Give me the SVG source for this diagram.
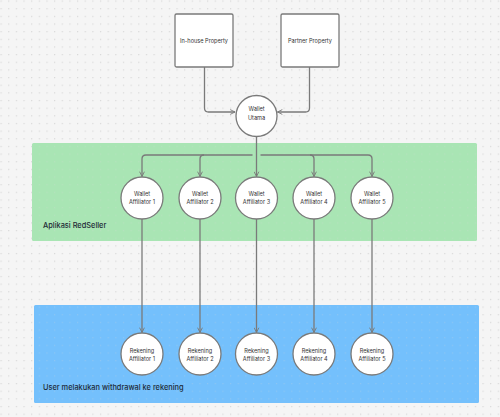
<svg xmlns="http://www.w3.org/2000/svg" width="500" height="417" viewBox="0 0 500 417">
<defs>
<pattern id="dots" x="0.5" y="0.5" width="7.65" height="7.65" patternUnits="userSpaceOnUse">
<rect x="0" y="0" width="1.2" height="1.2" fill="#d8d8d8"/>
</pattern>
<marker id="arr" viewBox="0 0 10 10" refX="9" refY="5" markerWidth="6" markerHeight="6" orient="auto" markerUnits="userSpaceOnUse">
<path d="M1,1 L9,5 L1,9" fill="none" stroke="#7a7a7a" stroke-width="1.5"/>
</marker>
<style>
.box{fill:#fff;stroke:#7a7a7a;stroke-width:1.3}
.node{fill:#fff;stroke:#7a7a7a;stroke-width:1.3}
.t{font-family:Inter,"Liberation Sans",sans-serif;font-size:5.6px;fill:#333;text-anchor:middle}
.lbl{font-family:Inter,"Liberation Sans",sans-serif;font-size:7.4px;font-weight:500;fill:#1e2a36}
.c{fill:none;stroke:#7a7a7a;stroke-width:1.3;marker-end:url(#arr)}
.c2{fill:none;stroke:#7a7a7a;stroke-width:1.3}
</style>
</defs>
<rect width="500" height="417" fill="#f5f5f5"/>
<rect width="500" height="417" fill="url(#dots)"/>
<g id="zone-app">
<rect x="32" y="143" width="445" height="98" rx="1.5" fill="#a9e5b4"/>
<rect x="32" y="143" width="445" height="98" fill="url(#dots)" opacity="0.25"/>
<text class="lbl" x="43" y="227.5">Aplikasi RedSeller</text>
</g>
<g id="zone-withdraw">
<rect x="34" y="305" width="445" height="98" rx="1.5" fill="#74c0fc"/>
<rect x="34" y="305" width="445" height="98" fill="url(#dots)" opacity="0.25"/>
<text class="lbl" x="43" y="389.5">User melakukan withdrawal ke rekening</text>
</g>
<g id="connectors">
<path class="c" d="M204.5,67 V108 Q204.5,112 208.5,112 H235"/>
<path class="c" d="M309.5,67 V108 Q309.5,112 305.5,112 H277.5"/>
<path class="c2" d="M256.5,136 V155"/>
<path class="c" d="M252.5,155 H146 Q142,155 142,159 V176.5"/>
<path class="c" d="M204,155 Q200,155 200,159 V176.5"/>
<path class="c" d="M256.5,155 V176.5"/>
<path class="c" d="M260.5,155 H310 Q314,155 314,159 V176.5"/>
<path class="c" d="M310,155 H368 Q372,155 372,159 V176.5"/>
<path class="c" d="M142,219 V332.5"/>
<path class="c" d="M200,219 V332.5"/>
<path class="c" d="M256.5,219 V332.5"/>
<path class="c" d="M314,219 V332.5"/>
<path class="c" d="M372,219 V332.5"/>
</g>
<g id="inhouse">
<rect class="box" x="175" y="14" width="58" height="53" rx="1.5"/>
<text class="t" x="204" y="43">In-house Property</text>
</g>
<g id="partner">
<rect class="box" x="281" y="14" width="58" height="53" rx="1.5"/>
<text class="t" x="310" y="43">Partner Property</text>
</g>
<g id="wallet-utama">
<circle class="node" cx="256.5" cy="116" r="20.5"/>
<text class="t" x="256.5" y="110.5">Wallet</text>
<text class="t" x="256.5" y="119.5">Utama</text>
</g>
<g id="wallet-aff-1">
<circle class="node" cx="142" cy="198" r="21"/>
<text class="t" x="142" y="195.5">Wallet</text>
<text class="t" x="142" y="204">Affiliator 1</text>
</g>
<g id="wallet-aff-2">
<circle class="node" cx="200" cy="198" r="21"/>
<text class="t" x="200" y="195.5">Wallet</text>
<text class="t" x="200" y="204">Affiliator 2</text>
</g>
<g id="wallet-aff-3">
<circle class="node" cx="256.5" cy="198" r="21"/>
<text class="t" x="256.5" y="195.5">Wallet</text>
<text class="t" x="256.5" y="204">Affiliator 3</text>
</g>
<g id="wallet-aff-4">
<circle class="node" cx="314" cy="198" r="21"/>
<text class="t" x="314" y="195.5">Wallet</text>
<text class="t" x="314" y="204">Affiliator 4</text>
</g>
<g id="wallet-aff-5">
<circle class="node" cx="372" cy="198" r="21"/>
<text class="t" x="372" y="195.5">Wallet</text>
<text class="t" x="372" y="204">Affiliator 5</text>
</g>
<g id="rek-aff-1">
<circle class="node" cx="142" cy="354" r="21"/>
<text class="t" x="142" y="352.5">Rekening</text>
<text class="t" x="142" y="361">Affiliator 1</text>
</g>
<g id="rek-aff-2">
<circle class="node" cx="200" cy="354" r="21"/>
<text class="t" x="200" y="352.5">Rekening</text>
<text class="t" x="200" y="361">Affiliator 2</text>
</g>
<g id="rek-aff-3">
<circle class="node" cx="256.5" cy="354" r="21"/>
<text class="t" x="256.5" y="352.5">Rekening</text>
<text class="t" x="256.5" y="361">Affiliator 3</text>
</g>
<g id="rek-aff-4">
<circle class="node" cx="314" cy="354" r="21"/>
<text class="t" x="314" y="352.5">Rekening</text>
<text class="t" x="314" y="361">Affiliator 4</text>
</g>
<g id="rek-aff-5">
<circle class="node" cx="372" cy="354" r="21"/>
<text class="t" x="372" y="352.5">Rekening</text>
<text class="t" x="372" y="361">Affiliator 5</text>
</g>
</svg>
